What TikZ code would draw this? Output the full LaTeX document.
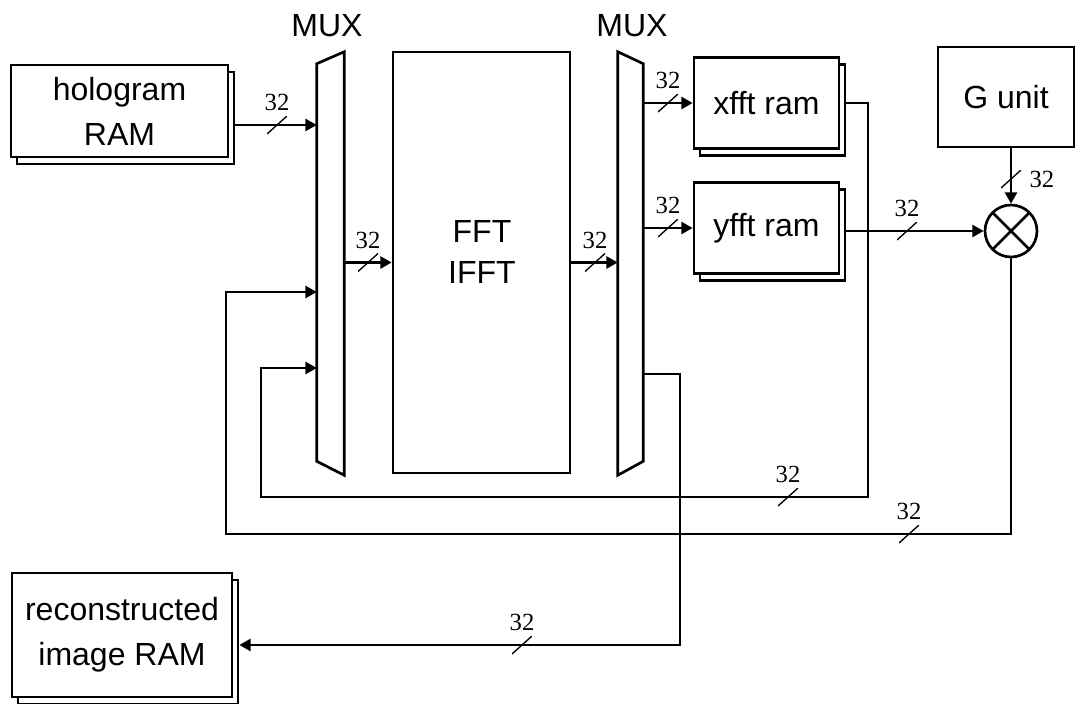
\documentclass[tikz,border=0pt]{standalone}
\usepackage{fontspec}
\setmainfont{Liberation Sans}
\newfontfamily\numfont{Liberation Serif}
\usepackage{tikz}
\usetikzlibrary{arrows.meta, shadows, positioning}

\begin{document}
\begin{tikzpicture}[x=0.75pt, y=-0.75pt,
			>={Triangle[length=8.5pt, width=9pt]},
			bus/.style={line width=2pt},
			block/.style={draw, line width=2pt, fill=white, align=center, inner sep=0pt, font=\fontsize{24}{33.75}\selectfont},
			stacked/.style={block, copy shadow={shadow xshift=4.5pt, shadow yshift=-5.25pt, fill=white, draw=black, line width=2pt}},
			muxbox/.style={minimum height=317.25pt, inner sep=0pt},
			lbl/.style={font=\fontsize{24}{31}\selectfont, align=center, inner sep=0pt},
			num/.style={font=\numfont\fontsize{18.5}{18.5}\selectfont, inner sep=0pt},
			slash/.style={minimum width=15pt, minimum height=13.5pt, inner sep=0pt,
				path picture={\draw[line width=1pt] (path picture bounding box.south west) -- (path picture bounding box.north east);}}
			]
			\useasboundingbox (0,0) rectangle (1081,703);
			
			% Geheugens links
			\node[stacked, minimum width=162.75pt, minimum height=69pt] (holo) at (119.5,111) {hologram\\RAM};
			\node[stacked, minimum width=165pt, minimum height=93pt] (recon) at (122,635) {reconstructed\\image RAM};
			
			% Multiplexers en FFT-kern
			\node[muxbox, minimum width=20.25pt] (mux1) at (330.5,263.5) {};
			\node[muxbox, minimum width=18.75pt] (mux2) at (630.5,263.5) {};
			\draw[bus] ([yshift=-9pt]mux1.north west) -- (mux1.north east) -- (mux1.south east) -- ([yshift=10.5pt]mux1.south west) -- cycle;
			\draw[bus] (mux2.north west) -- ([yshift=-9pt]mux2.north east) -- ([yshift=10.5pt]mux2.south east) -- (mux2.south west) -- cycle;
			\node[lbl] (mux1lbl) at (327,26) {MUX};
			\node[lbl] (mux2lbl) at (632,26) {MUX};
			\node[block, minimum width=132.75pt, minimum height=315.75pt] (fft) at (481.5,262.5) {};
			\node[lbl] (fftlbl) at (482,252) {FFT\\IFFT};
			
			% Geheugens rechts
			\node[stacked, minimum width=108.75pt, minimum height=68.25pt] (xfft) at (766.5,103) {xfft ram};
			\node[stacked, minimum width=108.75pt, minimum height=68.25pt] (yfft) at (766.5,228) {yfft ram};
			\node[block, minimum width=102pt, minimum height=75pt] (gunit) at (1006,97) {G unit};
			\node[draw, circle, line width=2pt, minimum size=39pt, inner sep=0pt,
				path picture={\draw[line width=2pt] (path picture bounding box.south west) -- (path picture bounding box.north east)
					(path picture bounding box.north west) -- (path picture bounding box.south east);}] (mult) at (1011,231) {};
			
			% Hulppunten
			\coordinate (h1) at ([xshift=4.5pt, yshift=-10.5pt]holo.east);
			\coordinate (yo) at ([xshift=4.5pt]yfft.east);
			\coordinate (xc) at (868,497);
			\coordinate (xin) at (261,368);
			\coordinate (gc) at (226,534);
			\coordinate (gin) at (226,292);
			\coordinate (ro) at (680,374);
			\coordinate (ri) at ([xshift=4.5pt, yshift=-7.5pt]recon.east);
			
			% Datapad
			\draw[bus, ->] (h1) -- (h1 -| mux1.west);
			\draw[bus, ->] (mux1.east |- fft) -- (fft.west);
			\draw[bus, ->] (fft.east) -- (fft.east -| mux2.west);
			\draw[bus, ->] (xfft.west -| mux2.east) -- (xfft.west);
			\draw[bus, ->] (yfft.west -| mux2.east) -- (yfft.west);
			\draw[bus, ->] (yo |- mult) -- (mult.west);
			\draw[bus, ->] (mult |- gunit.south) -- (mult.north);
			
			% Terugkoppelingen
			\draw[bus, ->] ([xshift=4.5pt]xfft.east) -| (xc) -| (xin) -- (xin -| mux1.west);
			\draw[bus, ->] (mult.south) |- (gc) -- (gin) -- (gin -| mux1.west);
			\draw[bus, ->] (ro -| mux2.east) -- (ro) |- (ri);
			
			% Busbreedtes
			\node[slash, label={[num, label distance=3.5pt]above:32}] (w1) at (277,125) {};
			\node[slash, label={[num, label distance=3.5pt]above:32}] (w2) at (368,262.5) {};
			\node[slash, label={[num, label distance=3.5pt]above:32}] (w3) at (595,262.5) {};
			\node[slash, label={[num, label distance=3.5pt]above:32}] (w4) at (668,103) {};
			\node[slash, label={[num, label distance=3.5pt]above:32}] (w5) at (668,228) {};
			\node[slash, label={[num, label distance=3.5pt]above:32}] (w6) at (907,231) {};
			\node[slash, label={[num, label distance=6pt]right:32}] (w7) at (1011,179) {};
			\node[slash, label={[num, label distance=3.5pt]above:32}] (w8) at (788,497) {};
			\node[slash, label={[num, label distance=3.5pt]above:32}] (w9) at (909,534) {};
			\node[slash, label={[num, label distance=3.5pt]above:32}] (w10) at (522,645) {};
			
		\end{tikzpicture}
\end{document}
